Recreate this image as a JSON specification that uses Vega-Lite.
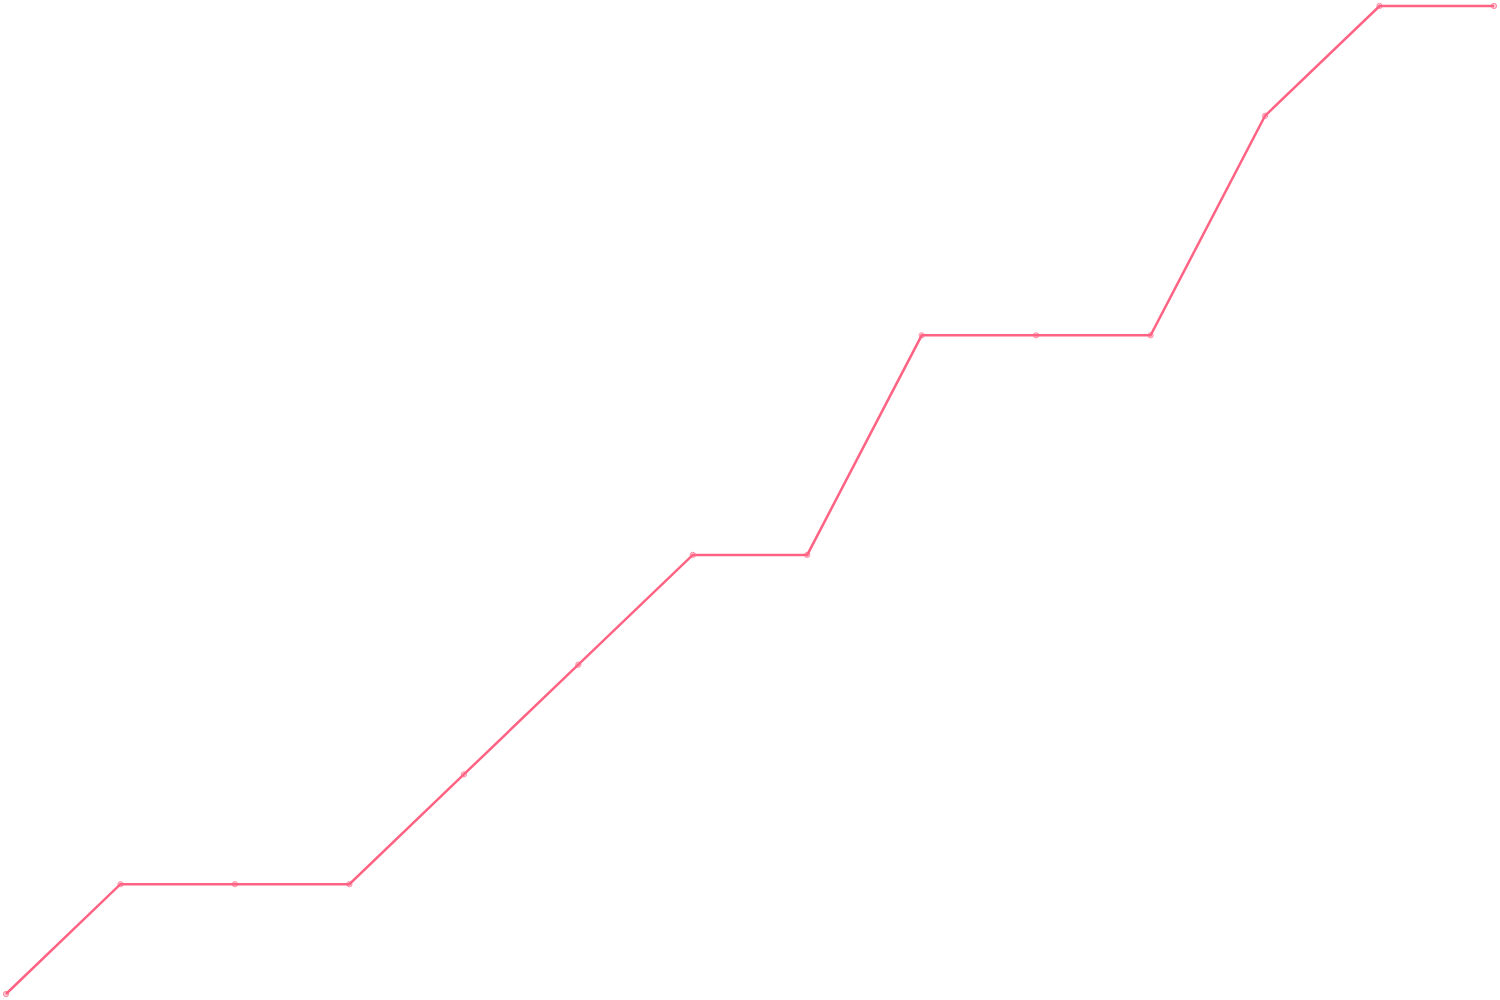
{
  "$schema": "https://vega.github.io/schema/vega-lite/v6.json",
  "width": 1500,
  "height": 1000,
  "autosize": {"type": "fit", "contains": "padding"},
  "padding": 1,
  "background": "white",
  "config": {"view": {"stroke": null}},
  "data": {
    "values": [
      {"i": 0, "v": 0}, {"i": 1, "v": 1}, {"i": 2, "v": 1}, {"i": 3, "v": 1},
      {"i": 4, "v": 2}, {"i": 5, "v": 3}, {"i": 6, "v": 4}, {"i": 7, "v": 4},
      {"i": 8, "v": 6}, {"i": 9, "v": 6}, {"i": 10, "v": 6}, {"i": 11, "v": 8},
      {"i": 12, "v": 9}, {"i": 13, "v": 9}
    ]
  },
  "layer": [
    {
      "mark": {"type": "line", "color": "rgb(255,99,132)", "strokeWidth": 2.5},
      "encoding": {
        "x": {"field": "i", "type": "quantitative", "axis": null, "scale": {"domain": [0, 13], "nice": false, "zero": false}},
        "y": {"field": "v", "type": "quantitative", "axis": null, "scale": {"domain": [0, 9], "nice": false}}
      }
    },
    {
      "mark": {"type": "point", "filled": true, "fill": "rgba(255,99,132,0.5)", "stroke": "rgb(255,99,132)", "strokeWidth": 1, "size": 28},
      "encoding": {
        "x": {"field": "i", "type": "quantitative"},
        "y": {"field": "v", "type": "quantitative"}
      }
    }
  ]
}
